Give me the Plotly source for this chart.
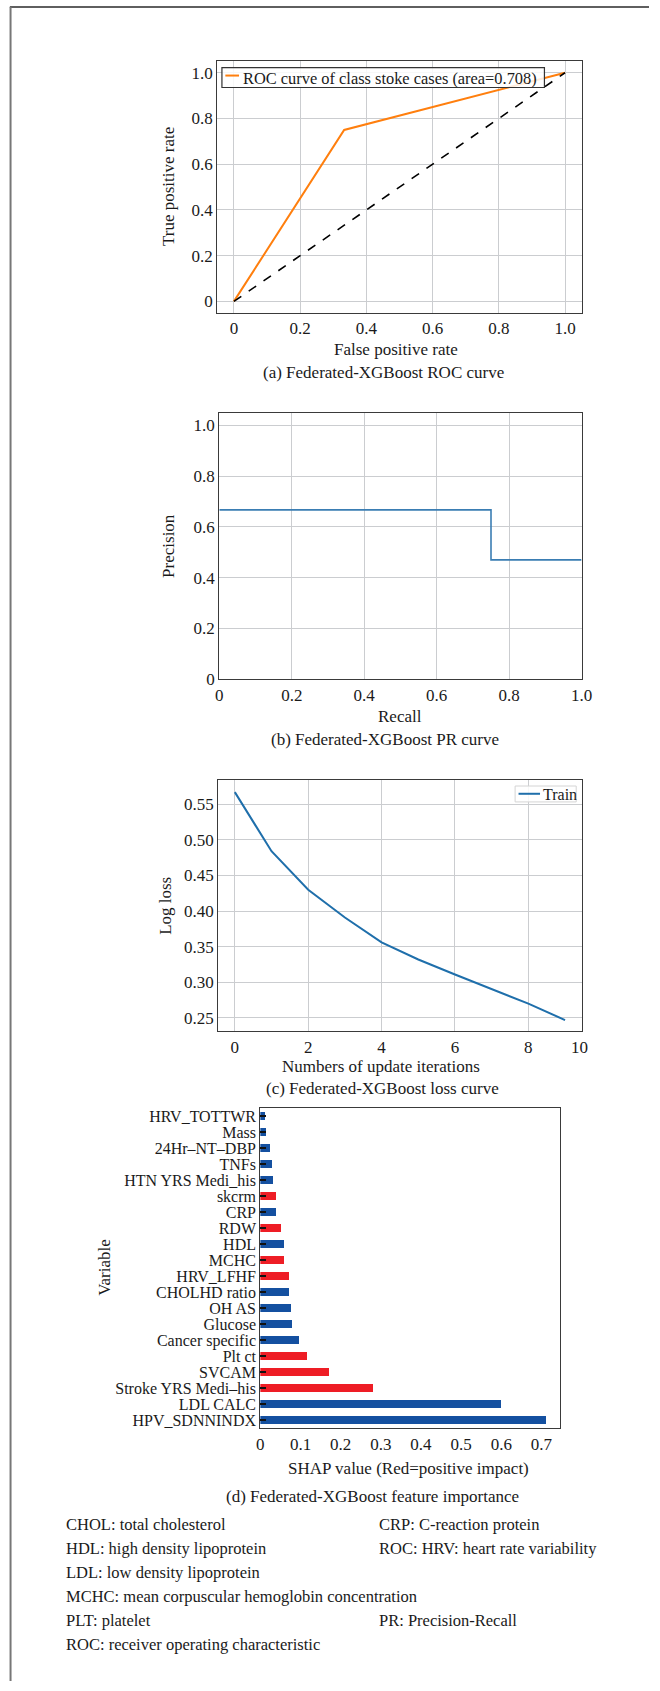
import plotly.graph_objects as go

W, H = 660, 1691
FONT = "Liberation Serif, Times New Roman, Times, serif"
TXT = "#1a1a1a"

# ---------------- data ----------------
# (a) ROC curve
roc_fpr = [0.0, 0.333, 1.0]
roc_tpr = [0.0, 0.75, 1.0]
chance_x = [0.0, 1.0]
chance_y = [0.0, 1.0]
roc_name = "ROC curve of class stoke cases (area=0.708)"

# (b) PR curve
pr_recall = [0.0, 0.75, 1.0]
pr_precision = [0.667, 0.47, 0.47]

# (c) loss curve
iterations = [0, 1, 2, 3, 4, 5, 6, 7, 8, 9]
log_loss = [0.567, 0.484, 0.430, 0.391, 0.356, 0.332, 0.311, 0.290, 0.270, 0.247]
loss_name = "Train"

# (d) feature importance (top -> bottom)
features = ["HRV_TOTTWR", "Mass", "24Hr–NT–DBP", "TNFs", "HTN YRS Medi_his", "skcrm",
            "CRP", "RDW", "HDL", "MCHC", "HRV_LFHF", "CHOLHD ratio", "OH AS", "Glucose",
            "Cancer specific", "Plt ct", "SVCAM", "Stroke YRS Medi–his", "LDL CALC",
            "HPV_SDNNINDX"]
shap_values = [0.013, 0.014, 0.025, 0.029, 0.033, 0.041, 0.041, 0.053, 0.060, 0.060,
               0.071, 0.072, 0.076, 0.080, 0.097, 0.116, 0.171, 0.281, 0.601, 0.712]
positive_impact = [False, False, False, False, False, True, False, True, False, True,
                   True, False, False, False, False, True, True, True, False, False]

unit_ticks = [0, 0.2, 0.4, 0.6, 0.8, 1.0]
unit_ticktext = ["0", "0.2", "0.4", "0.6", "0.8", "1.0"]
iter_ticks = [0, 2, 4, 6, 8]
iter_extra_label = "10"
loss_ticks = [0.25, 0.30, 0.35, 0.40, 0.45, 0.50, 0.55]
loss_ticktext = ["0.25", "0.30", "0.35", "0.40", "0.45", "0.50", "0.55"]
shap_ticks = [0, 0.1, 0.2, 0.3, 0.4, 0.5, 0.6, 0.7]
shap_ticktext = ["0", "0.1", "0.2", "0.3", "0.4", "0.5", "0.6", "0.7"]

footnotes_left = ["CHOL: total cholesterol", "HDL: high density lipoprotein",
                  "LDL: low density lipoprotein",
                  "MCHC: mean corpuscular hemoglobin concentration",
                  "PLT: platelet", "ROC: receiver operating characteristic"]
footnotes_right = {0: "CRP: C-reaction protein", 1: "ROC: HRV: heart rate variability",
                   4: "PR: Precision-Recall"}

ROC_COLOR = "#ff7f0e"
PR_COLOR = "#3a7db3"
LOSS_COLOR = "#1f6fab"
BLUE_BAR = "#1450a0"
RED_BAR = "#ee1d25"


def px(x):
    return x / W


def py(y):
    return 1 - y / H


fig = go.Figure()

# (a)
fig.add_trace(go.Scatter(x=roc_fpr, y=roc_tpr, mode="lines", name=roc_name,
                         showlegend=False, line=dict(color=ROC_COLOR, width=2),
                         xaxis="x", yaxis="y"))
fig.add_trace(go.Scatter(x=chance_x, y=chance_y, mode="lines", showlegend=False,
                         line=dict(color="black", width=1.6, dash="dash"),
                         xaxis="x", yaxis="y"))
# (b)
fig.add_trace(go.Scatter(x=pr_recall, y=pr_precision, mode="lines", line_shape="hv",
                         showlegend=False, line=dict(color=PR_COLOR, width=1.6),
                         xaxis="x2", yaxis="y2"))
# (c)
fig.add_trace(go.Scatter(x=iterations, y=log_loss, mode="lines", name=loss_name,
                         showlegend=False, line=dict(color=LOSS_COLOR, width=2),
                         xaxis="x3", yaxis="y3"))
# (d)
fig.add_trace(go.Bar(x=shap_values, y=features, orientation="h", width=0.5,
                     marker=dict(color=[RED_BAR if p else BLUE_BAR for p in positive_impact],
                                 line=dict(width=0)),
                     showlegend=False, xaxis="x4", yaxis="y4"))

tickfont = dict(family=FONT, size=17, color=TXT)
box = dict(showline=True, mirror=True, linecolor="#3a3a3a", linewidth=1.3,
           tickfont=tickfont, zeroline=False, ticks="")
grid = dict(showgrid=True, gridcolor="#cbcdd0", gridwidth=1)

panels = {
    "a": (218.3, 591, 61.7, 314.7),
    "b": (220.3, 591, 415, 683.3),
    "c": (219.3, 591, 785, 1037.3),
    "d": (262.3, 568.7, 1114.7, 1436.7),
}


def dom(p):
    x0, x1, y0, y1 = panels[p]
    return [px(x0), px(x1)], [py(y1), py(y0)]


xa, ya = dom("a")
xb, yb = dom("b")
xc, yc = dom("c")
xd, yd = dom("d")

fig.update_layout(
    width=W, height=H, margin=dict(l=0, r=0, t=0, b=0),
    paper_bgcolor="white", plot_bgcolor="white", showlegend=False,
    font=dict(family=FONT, size=17, color=TXT),
    xaxis=dict(domain=xa, range=[-0.05, 1.05], tickvals=unit_ticks, ticktext=unit_ticktext,
               anchor="y", **box, **grid),
    yaxis=dict(domain=ya, range=[-0.05, 1.05], tickvals=unit_ticks, ticktext=unit_ticktext,
               anchor="x", **box, **grid),
    xaxis2=dict(domain=xb, range=[0, 1.0], tickvals=unit_ticks, ticktext=unit_ticktext,
                anchor="y2", **box, **grid),
    yaxis2=dict(domain=yb, range=[0, 1.05], tickvals=unit_ticks, ticktext=unit_ticktext,
                anchor="x2", **box, **grid),
    xaxis3=dict(domain=xc, range=[-0.45, 9.45], tickvals=iter_ticks, anchor="y3",
                **box, **grid),
    yaxis3=dict(domain=yc, range=[0.2314, 0.5835], tickvals=loss_ticks,
                ticktext=loss_ticktext, anchor="x3", **box, **grid),
    xaxis4=dict(domain=xd, range=[0, 0.7455], tickvals=shap_ticks, ticktext=shap_ticktext,
                anchor="y4", showgrid=False, showline=True, mirror=True,
                linecolor="#3a3a3a", linewidth=1.3, tickfont=tickfont, zeroline=False,
                ticks=""),
    yaxis4=dict(domain=yd, type="category", categoryorder="array", categoryarray=features,
                tickmode="array", tickvals=features, ticktext=features,
                range=[19.5, -0.5], anchor="x4", showgrid=False, showline=True, mirror=True,
                linecolor="#3a3a3a", linewidth=1.3,
                tickfont=dict(family=FONT, size=16, color=TXT),
                ticks="inside", ticklen=6, tickwidth=1.5, tickcolor="#111"),
    bargap=0,
)

ann = []


def text(x, y, s, size=17, angle=0, xanchor="center"):
    ann.append(dict(x=px(x), y=py(y), xref="paper", yref="paper", text=s, showarrow=False,
                    xanchor=xanchor, yanchor="middle", textangle=angle,
                    font=dict(family=FONT, size=size, color=TXT)))


# legend (a): box, sample line, label
fig.add_shape(type="rect", xref="paper", yref="paper", x0=px(223), x1=px(553),
              y0=py(88), y1=py(68), fillcolor="rgba(255,255,255,0.85)",
              line=dict(color="#333", width=1.2), layer="above")
fig.add_shape(type="line", xref="paper", yref="paper", x0=px(226.5), x1=px(240.5),
              y0=py(76), y1=py(76), line=dict(color=ROC_COLOR, width=2), layer="above")
text(242.5, 78.5, roc_name, size=16.4, xanchor="left")

# legend (c)
fig.add_shape(type="rect", xref="paper", yref="paper", x0=px(523), x1=px(585.5),
              y0=py(806.7), y1=py(790.7), fillcolor="rgba(255,255,255,0.85)",
              line=dict(color="#d4d4d4", width=1), layer="above")
fig.add_shape(type="line", xref="paper", yref="paper", x0=px(526.5), x1=px(548.5),
              y0=py(798.5), y1=py(798.5), line=dict(color=LOSS_COLOR, width=2),
              layer="above")
text(549.5, 799, loss_name, size=16, xanchor="left")

# axis titles & captions
text(169, 188, "True positive rate", angle=-90)
text(400.7, 352, "False positive rate")
text(388, 375, "(a) Federated-XGBoost ROC curve")

text(169, 549, "Precision", angle=-90)
text(405, 720.7, "Recall")
text(390, 744, "(b) Federated-XGBoost PR curve")

text(165, 911, "Log loss", angle=-90)
text(385.7, 1073, "Numbers of update iterations")
text(387, 1095, "(c) Federated-XGBoost loss curve")
# extra "10" label sitting at the right edge of the x axis
text(589, 1053.3, iter_extra_label)

text(102.7, 1275, "Variable", angle=-90)
text(414, 1477, "SHAP value (Red=positive impact)")
text(376.7, 1505, "(d) Federated-XGBoost feature importance")

# footnotes
row_y = [1534, 1558, 1582, 1606, 1630, 1654]
for i, s in enumerate(footnotes_left):
    text(61.7, row_y[i], s, size=16.5, xanchor="left")
for i, s in footnotes_right.items():
    text(381.7, row_y[i], s, size=16.5, xanchor="left")

fig.update_layout(annotations=ann)

# frame lines (top and left)
fig.add_shape(type="line", xref="paper", yref="paper", x0=px(6), x1=1, y0=py(7), y1=py(7),
              line=dict(color="#2a2a2a", width=1.5))
fig.add_shape(type="line", xref="paper", yref="paper", x0=px(6.7), x1=px(6.7), y0=py(7),
              y1=0, line=dict(color="#777", width=2))

fig.write_html("out.html")
